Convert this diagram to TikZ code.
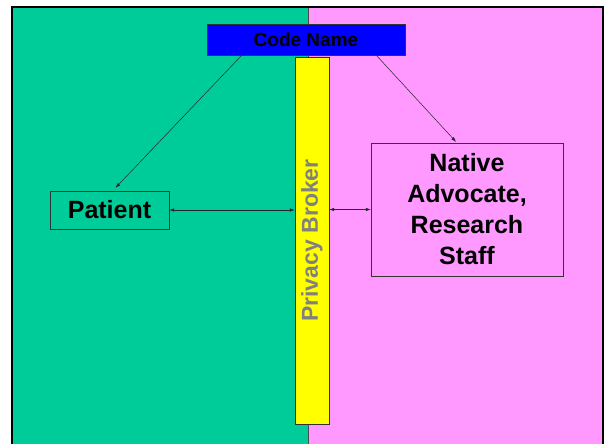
\documentclass[tikz,border=0pt]{standalone}
\usepackage{fontspec}
\setmainfont{Liberation Sans}
\usetikzlibrary{arrows.meta}
\definecolor{side-green}{HTML}{00CC99}
\definecolor{side-pink}{HTML}{FF99FF}
\definecolor{code-blue}{HTML}{0000FF}
\definecolor{broker-yellow}{HTML}{FFFF00}
\definecolor{broker-grey}{HTML}{808080}

\tikzset{
  box/.style={draw=black!80, inner sep=0pt},
  link/.style={draw=black!85, line width=0.5pt, -{Latex[length=5pt,width=3.5pt]}},
  both link/.style={draw=black!85, line width=0.5pt, {Latex[length=5pt,width=3.5pt]}-{Latex[length=5pt,width=3.5pt]}},
}

\begin{document}
\begin{tikzpicture}[x=1pt,y=-1pt]

    \clip (0,0) rectangle (606,444);
    \fill[white] (0,0) rectangle (606,444);

    \draw[fill=side-green, draw=black!70] (12,7) rectangle (308,460);
    \draw[fill=side-pink, draw=black!70] (308,7) rectangle (603,460);
    \draw[line width=2pt] (12,460) -- (12,7) -- (603,7) -- (603,460);

    \draw (306,39.5) 
		node[box, fill=code-blue, minimum width=198pt, minimum height=31pt, font=\bfseries\fontsize{19}{22}\selectfont] 
			(Code Name) {Code Name};

    \draw (312,240.5) 
		node[box, fill=broker-yellow, rotate=90, minimum width=367pt, minimum height=34pt, text=broker-grey, font=\bfseries\fontsize{23}{26}\selectfont] 
			(Privacy Broker) {Privacy Broker};

    \draw (109.5,210) 
		node[box, minimum width=119pt, minimum height=38pt, font=\bfseries\fontsize{25}{30}\selectfont] 
			(Patient) {Patient};

    \draw (467,209.5) 
		node[box, minimum width=192pt, minimum height=133pt, align=center, font=\bfseries\fontsize{25}{31}\selectfont] 
			(Native Advocate) {Native\\Advocate,\\Research\\Staff};

	\draw[link] ([xshift=35pt]Code Name.south west) -- ([xshift=6pt,yshift=3pt]Patient.north);
	\draw[link] ([xshift=-29pt]Code Name.south east) -- ([xshift=-11pt,yshift=1pt]Native Advocate.north);

	\draw[both link] (Patient.east) -- (Patient.east -| Privacy Broker.north);
	\draw[both link] (Native Advocate.west -| Privacy Broker.south) -- (Native Advocate.west);

\end{tikzpicture}
\end{document}
